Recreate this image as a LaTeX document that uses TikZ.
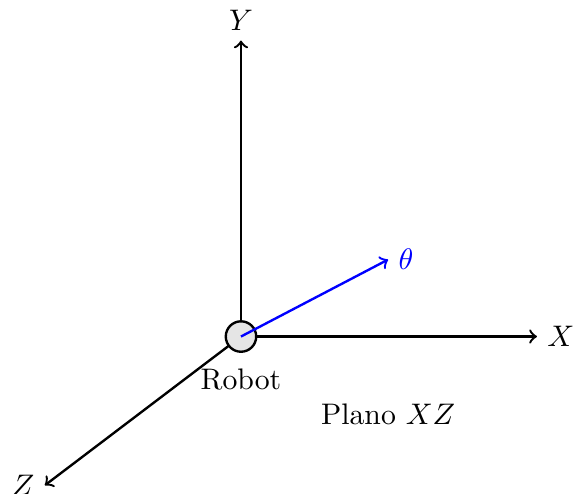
\documentclass[tikz,border=0pt]{standalone}
\usetikzlibrary{positioning}
\tikzset{
eje/.style={->,thick},
angulo/.style={->,thick,blue},
robotnode/.style={draw,thick,circle,fill=gray!20,minimum size=0.36cm,inner sep=0pt},
etiqueta/.style={inner sep=3.33pt}
}
\begin{document}
\begin{tikzpicture}
\useasboundingbox (-2.85,-1.86) rectangle (3.95,3.98);
\coordinate (xfin) at (3.5,0);
\coordinate (yfin) at (0,3.5);
\coordinate (zfin) at (-2.32,-1.76);
\coordinate (tfin) at (1.74,0.91);
\draw[eje](0,0)--(xfin);\draw[eje](0,0)--(yfin);\draw[eje](0,0)--(zfin);
\node[robotnode](robot) at (0,0){};
\draw[angulo](robot.center)--(tfin);
\node[etiqueta,right=0pt of xfin](xlab){$X$};
\node[etiqueta,above=0pt of yfin](ylab){$Y$};
\node[etiqueta,left=0pt of zfin](zlab){$Z$};
\node[etiqueta,right=0pt of tfin,blue](tlab){$\theta$};
\node[etiqueta,below=2pt of robot](rlab){Robot};
\node[etiqueta](plano) at (1.74,-0.92){Plano $XZ$};
\end{tikzpicture}
\end{document}
